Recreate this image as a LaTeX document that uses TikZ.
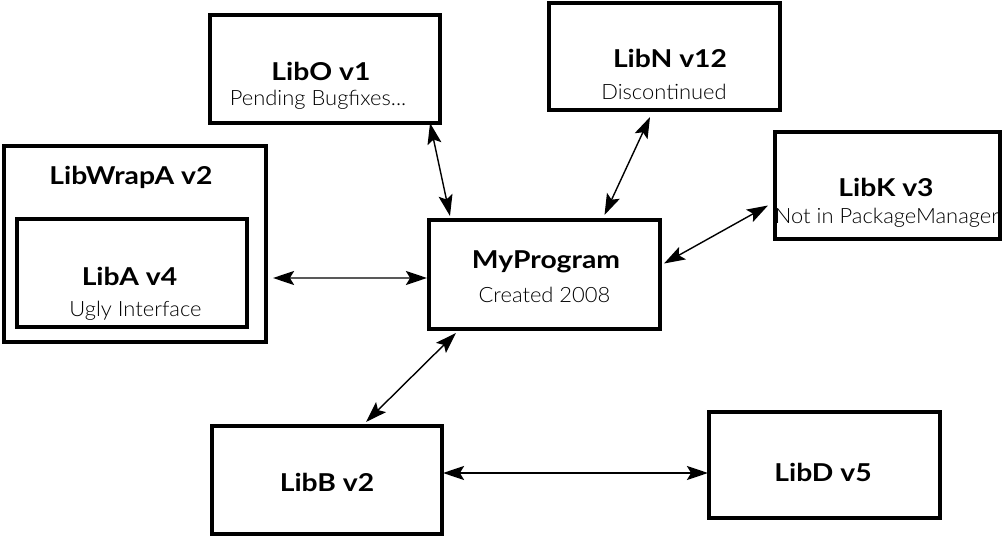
\documentclass[tikz,border=0pt]{standalone}
\usepackage{fontspec}
\setmainfont{Lato}
\newfontfamily\titlefont{Lato}[FakeStretch=1.15]
\newfontfamily\lightfont{Lato Light}[FakeStretch=1.04]
\usetikzlibrary{calc,arrows.meta}

\begin{document}
\begin{tikzpicture}[x=0.025cm, y=-0.025cm,
  libbox/.style={draw, line width=2.5pt, outer sep=0pt, minimum width=5.75cm, minimum height=2.7cm},
  libtitle/.style={anchor=base, inner sep=0pt, font=\titlefont\bfseries\fontsize{17.5}{20}\selectfont},
  libnote/.style={anchor=base, inner sep=0pt, font=\lightfont\fontsize{15}{18}\selectfont},
  deplink/.style={{Stealth[length=15pt,width=10pt,inset=3pt]}-{Stealth[length=15pt,width=10pt,inset=3pt]}, line width=1pt}]
  \useasboundingbox (0,0) rectangle (1008,537);

  % boxes
  \node[libbox] (libO) at (325,69) {};
  \node[libbox, minimum width=5.775cm, minimum height=2.675cm] (libN) at (664.5,56.5) {};
  \node[libbox, minimum width=6.55cm, minimum height=4.9cm] (wrapA) at (135,244) {};
  \node[libbox] (libA) at (132,273) {};
  \node[libbox, minimum width=5.775cm, minimum height=2.725cm] (prog) at (544.5,274.5) {};
  \node[libbox, minimum width=5.625cm, minimum height=2.675cm] (libK) at (887.5,185.5) {};
  \node[libbox] (libB) at (327,480) {};
  \node[libbox, minimum width=5.775cm, minimum height=2.65cm] (libD) at (824.5,465) {};

  % texts
  \node[libtitle] (libOT) at (321,81) {LibO v1};
  \node[libnote] (libON) at (318,106) {Pending Bugfixes...};
  \node[libtitle] (libNT) at (670,68) {LibN v12};
  \node[libnote] (libNN) at (664,100) {Discontinued};
  \node[libtitle] (wrapAT) at (131,185) {LibWrapA v2};
  \node[libtitle] (libAT) at (129.5,286) {LibA v4};
  \node[libnote] (libAN) at (135.5,317) {Ugly Interface};
  \node[libtitle] (progT) at (546,269) {MyProgram};
  \node[libnote] (progN) at (544.5,303) {Created 2008};
  \node[libtitle] (libKT) at (886,197) {LibK v3};
  \node[libnote] (libKN) at (887,224) {Not in PackageManager};
  \node[libtitle] (libBT) at (327,492) {LibB v2};
  \node[libtitle] (libDT) at (823,481) {LibD v5};

  % dependencies
  \draw[deplink] ($(wrapA.east)+(7,34)$) -- ($(prog.west)+(-2,3.5)$);
  \draw[deplink] ($(libO.south east)+(-10,0)$) -- ($(prog.north west)+(21,-4)$);
  \draw[deplink] ($(libN.south)+(-14.5,7)$) -- ($(prog.north)+(60,-5)$);
  \draw[deplink] ($(libK.west)+(-7,20)$) -- ($(prog.east)+(4,-11)$);
  \draw[deplink] ($(prog.south west)+(27,4)$) -- ($(libB.north)+(39,-4)$);
  \draw[deplink] ($(libB.east)+(1,-7)$) -- ($(libD.west)+(-1,8)$);
\end{tikzpicture}
\end{document}
